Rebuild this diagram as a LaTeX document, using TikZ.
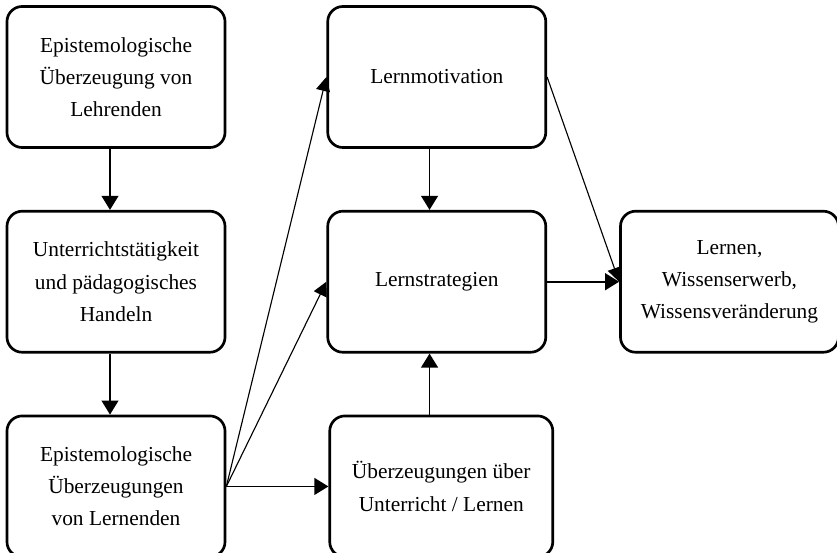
\documentclass[tikz,border=0pt]{standalone}
\usepackage{fontspec}
\setmainfont{Liberation Serif}
\usetikzlibrary{positioning, arrows.meta}

\begin{document}
\begin{tikzpicture}[
    x=0.025cm, y=-0.025cm,
    node distance=1.525cm and 2.5cm,
    font=\fontsize{15.2}{22.8}\selectfont,
    % Stil der Kaesten
    box/.style={
        rectangle,
        draw=black,
        fill=white,
        rounded corners=0.38cm,
        minimum width=5.45cm,
        minimum height=3.525cm,
        align=center,
        line width=1.9pt
    },
    % Stil der Pfeile
    arrow/.style={-{Triangle[length=10pt, width=12pt]}, line width=1.2pt},
    thinarrow/.style={-{Triangle[length=10pt, width=10pt]}, line width=0.8pt}
]
\useasboundingbox (0,0) rectangle (837,553);

% -- Linke Spalte --
\node[box] (lehr) at (116,77) {Epistemologische\\Überzeugung von\\Lehrenden};

\node[box, below=of lehr] (unt) {Unterrichtstätigkeit\\und pädagogisches\\Handeln};

\node[box, below=of unt] (lern) {Epistemologische\\Überzeugungen\\von Lernenden};

% -- Mittlere Spalte --
\node[box, right=of lehr] (mot) {Lernmotivation};

\node[box, below=of mot] (strat) {Lernstrategien};

\node[box, right=2.55cm of lern, minimum width=5.575cm] (ueb) {Überzeugungen über\\Unterricht / Lernen};

% -- Rechte Spalte --
\node[box, right=1.8cm of strat] (wiss) {Lernen,\\Wissenserwerb,\\Wissensveränderung};

% -- Verbindungen --
\draw[arrow] ([xshift=-0.15cm]lehr.south) -- ([xshift=-0.15cm]unt.north);
\draw[arrow] ([xshift=-0.15cm]unt.south) -- ([xshift=-0.15cm]lern.north);
\draw[arrow] (lern.east) -- (ueb.west);
\draw[thinarrow] (lern.east) -- (mot.west);
\draw[thinarrow] (lern.east) -- (strat.west);
\draw[arrow] ([xshift=-0.18cm]mot.south) -- ([xshift=-0.18cm]strat.north);
\draw[arrow] ([xshift=-0.18cm]strat.south |- ueb.north) -- ([xshift=-0.18cm]strat.south);
\draw[arrow] (strat) -- (wiss);
\draw[thinarrow] (mot.east) -- (wiss.west);

\end{tikzpicture}
\end{document}
